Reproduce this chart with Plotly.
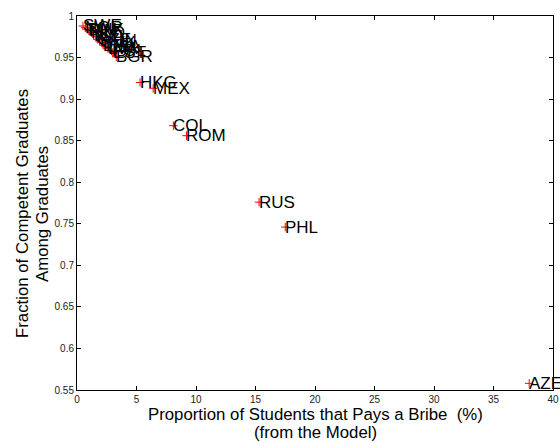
import plotly.graph_objects as go

countries = ["SWE", "NOR", "DNK", "FIN", "NLD", "ISL", "NZL", "CZE", "HUN", "SVK",
             "LTU", "USA", "LVA", "POL", "EST", "BGR",
             "HKG", "MEX", "COL", "ROM", "RUS", "PHL", "AZE"]
bribe_pct = [0.5, 0.7, 0.9, 1.0, 1.2, 1.4, 1.6, 1.7, 1.9, 2.1,
             2.2, 2.4, 2.6, 2.9, 3.0, 3.3,
             5.3, 6.4, 8.1, 9.2, 15.3, 17.5, 38.0]
competent_frac = [0.988, 0.986, 0.984, 0.982, 0.980, 0.977, 0.975, 0.972, 0.970, 0.968,
                  0.965, 0.963, 0.961, 0.958, 0.956, 0.951,
                  0.920, 0.913, 0.868, 0.856, 0.776, 0.746, 0.558]

x_ticks = [0, 5, 10, 15, 20, 25, 30, 35, 40]
y_ticks = [0.55, 0.6, 0.65, 0.7, 0.75, 0.8, 0.85, 0.9, 0.95, 1]
y_ticklabels = ["0.55", "0.6", "0.65", "0.7", "0.75", "0.8", "0.85", "0.9", "0.95", "1"]

x_title_lines = ["Proportion of Students that Pays a Bribe  (%)", "(from the Model)"]
y_title_lines = ["Fraction of Competent Graduates", "Among Graduates"]

FONT = "Liberation Sans, Arial, Helvetica, sans-serif"
TFONT = dict(family=FONT, size=16.8, color="black")

fig = go.Figure()
fig.add_trace(go.Scatter(
    x=bribe_pct, y=competent_frac, mode="markers",
    marker=dict(symbol="cross-thin", size=6, line=dict(color="red", width=1)),
    cliponaxis=False, showlegend=False, hoverinfo="skip"))

for c, xv, yv in zip(countries, bribe_pct, competent_frac):
    fig.add_annotation(x=xv, y=yv, text=c, showarrow=False, xanchor="left",
                       yanchor="middle", xshift=-2,
                       font=dict(family=FONT, size=17, color="black"))

# axis titles (two lines each, MATLAB-like spacing)
for i, line in enumerate(x_title_lines):
    fig.add_annotation(xref="paper", yref="paper", x=0.5, y=0, text=line,
                       showarrow=False, xanchor="center", yanchor="middle",
                       yshift=-24 - 18 * i, font=TFONT)
for i, line in enumerate(y_title_lines):
    fig.add_annotation(xref="paper", yref="paper", x=0, y=0.5, text=line,
                       showarrow=False, xanchor="center", yanchor="middle",
                       textangle=-90, xshift=-55 + 20 * i, yshift=-11, font=TFONT)

axis_common = dict(showline=True, linecolor="black", linewidth=1, mirror="allticks",
                   ticks="inside", ticklen=4, tickcolor="black", showgrid=False,
                   zeroline=False, automargin=False,
                   tickfont=dict(family=FONT, size=10, color="#222222"))

fig.update_xaxes(range=[0, 40], tickvals=x_ticks, ticktext=[str(v) for v in x_ticks],
                 **axis_common)
fig.update_yaxes(range=[0.55, 1], tickvals=y_ticks, ticktext=y_ticklabels,
                 **axis_common)

fig.update_layout(width=560, height=442, margin=dict(l=77, r=7, t=16, b=52),
                  plot_bgcolor="white", paper_bgcolor="white")
fig.write_html("out.html")
